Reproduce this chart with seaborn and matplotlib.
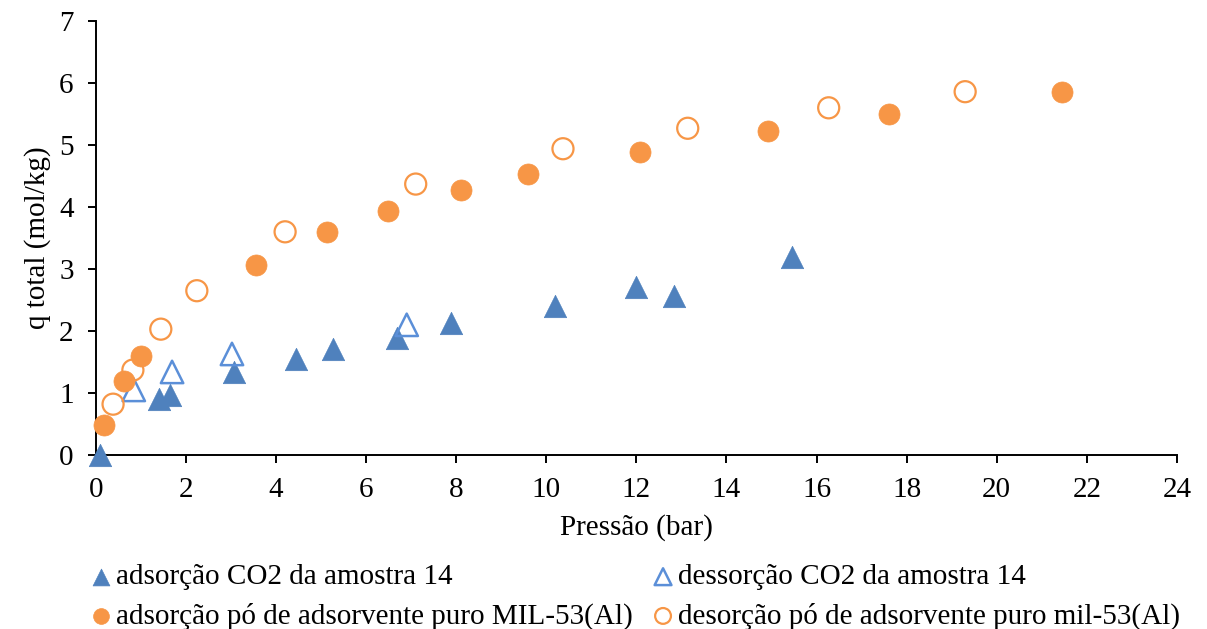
import numpy as np
import pandas as pd
import matplotlib
matplotlib.use("Agg")
import matplotlib.pyplot as plt
import seaborn as sns

# dados
p_ads_co2 = [0.1, 1.4, 1.64, 3.06, 4.44, 5.26, 6.68, 7.88, 10.2, 12.0, 12.83, 15.45]
q_ads_co2 = [0.0, 0.9, 0.97, 1.34, 1.55, 1.71, 1.89, 2.13, 2.40, 2.71, 2.56, 3.19]

p_des_co2 = [0.84, 1.69, 3.02, 6.9]
q_des_co2 = [1.05, 1.34, 1.63, 2.1]

p_ads_mil = [0.18, 0.62, 1.0, 3.55, 5.13, 6.48, 8.1, 9.6, 12.08, 14.92, 17.6, 21.45]
q_ads_mil = [0.48, 1.19, 1.6, 3.06, 3.6, 3.94, 4.27, 4.53, 4.89, 5.23, 5.5, 5.85]

p_des_mil = [0.38, 0.82, 1.44, 2.24, 4.2, 7.1, 10.37, 13.14, 16.27, 19.3]
q_des_mil = [0.82, 1.37, 2.03, 2.65, 3.6, 4.37, 4.94, 5.27, 5.6, 5.86]

labels = ['adsorção CO2 da amostra 14',
          'dessorção CO2 da amostra 14',
          'adsorção pó de adsorvente puro MIL-53(Al)',
          'desorção pó de adsorvente puro mil-53(Al)']

blue = '#4F81BD'
blue_light = '#5B8FD8'
orange = '#F79646'

sns.set_style('white')
plt.rcParams['font.family'] = ['Liberation Serif', 'DejaVu Serif']
plt.rcParams['text.color'] = 'black'
plt.rcParams['axes.labelcolor'] = 'black'

fig = plt.figure(figsize=(12.07, 6.29), dpi=100)
ax = fig.add_axes([0.0795, 0.2766, 0.8955, 0.69])

sns.scatterplot(x=p_ads_co2, y=q_ads_co2, ax=ax, marker='^', s=260,
                color=blue, edgecolor=blue, linewidth=0.5, label=labels[0], zorder=3, clip_on=False)
sns.scatterplot(x=p_des_co2, y=q_des_co2, ax=ax, marker='^', s=260,
                facecolor='none', edgecolor=blue_light, linewidth=1.8, label=labels[1], zorder=3, clip_on=False)
sns.scatterplot(x=p_ads_mil, y=q_ads_mil, ax=ax, marker='o', s=230,
                color=orange, edgecolor=orange, linewidth=0.5, label=labels[2], zorder=3, clip_on=False)
sns.scatterplot(x=p_des_mil, y=q_des_mil, ax=ax, marker='o', s=230,
                facecolor='none', edgecolor=orange, linewidth=1.6, label=labels[3], zorder=3, clip_on=False)

ax.set_xlim(0, 24)
ax.set_ylim(0, 7)
ax.set_xticks(np.arange(0, 25, 2))
ax.set_yticks(np.arange(0, 8, 1))
ax.tick_params(axis='both', direction='out', length=6, width=1.4, labelsize=21,
               bottom=True, left=True, colors='black', pad=10)
for s in ['top', 'right']:
    ax.spines[s].set_visible(False)
for s in ['left', 'bottom']:
    ax.spines[s].set_color('black')
    ax.spines[s].set_linewidth(1.4)

ax.set_xlabel('Pressão (bar)', fontsize=21, labelpad=8)
ax.set_ylabel('q total (mol/kg)', fontsize=21, labelpad=6)

handles, labs = ax.get_legend_handles_labels()
ax.get_legend().remove()
order = [0, 2, 1, 3]
fig.legend([handles[i] for i in order], [labs[i] for i in order],
           loc='upper left', bbox_to_anchor=(0.062, 0.122), ncol=2, frameon=False,
           fontsize=21, markerscale=0.75, handletextpad=0.0, handlelength=1.0,
           columnspacing=0.55, labelspacing=0.42, borderaxespad=0)

fig.savefig('out.png', dpi=100)
